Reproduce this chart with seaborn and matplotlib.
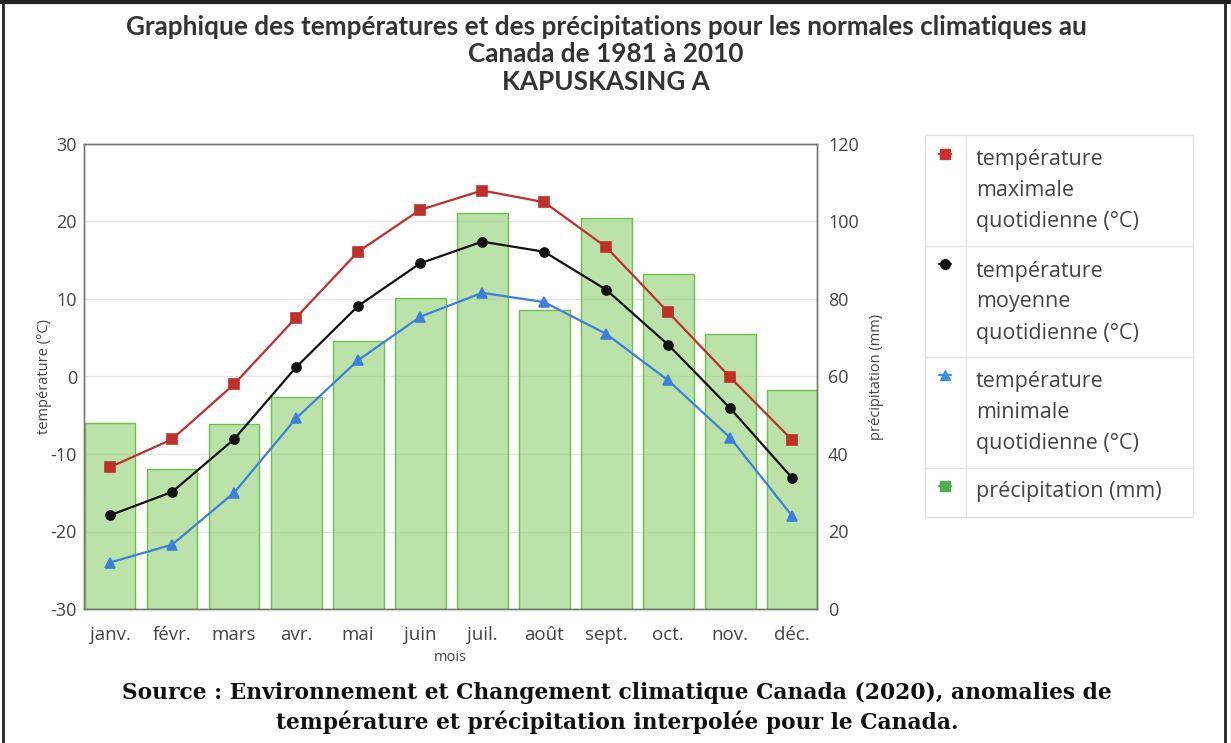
import numpy as np
import pandas as pd
import matplotlib
matplotlib.use("Agg")
import matplotlib.pyplot as plt
from matplotlib.lines import Line2D
from matplotlib.patches import Rectangle
import seaborn as sns

# monthly normals, Kapuskasing A (1981-2010)
months = ['janv.', 'févr.', 'mars', 'avr.', 'mai', 'juin',
          'juil.', 'août', 'sept.', 'oct.', 'nov.', 'déc.']
temp_max = [-11.7, -8.1, -1.0, 7.6, 16.1, 21.5, 24.0, 22.5, 16.7, 8.3, -0.1, -8.2]
temp_mean = [-17.9, -14.9, -8.1, 1.2, 9.1, 14.6, 17.4, 16.1, 11.2, 4.1, -4.1, -13.1]
temp_min = [-24.0, -21.7, -15.0, -5.4, 2.1, 7.7, 10.8, 9.6, 5.5, -0.5, -7.9, -18.0]
precip = [48.0, 36.1, 47.7, 54.7, 69.2, 80.3, 102.2, 77.2, 100.9, 86.5, 71.0, 56.5]
temp_ticks = [-30, -20, -10, 0, 10, 20, 30]
precip_ticks = [0, 20, 40, 60, 80, 100, 120]

legend_rows = [
    ['température', 'maximale', 'quotidienne (°C)'],
    ['température', 'moyenne', 'quotidienne (°C)'],
    ['température', 'minimale', 'quotidienne (°C)'],
    ['précipitation (mm)'],
]

df = pd.DataFrame({'mois': months, 'tmax': temp_max, 'tmean': temp_mean,
                   'tmin': temp_min, 'precip': precip})

sns.set_theme(style='white')
plt.rcParams['font.family'] = ['Open Sans', 'DejaVu Sans']
plt.rcParams['axes.unicode_minus'] = False

W, H = 1231, 743
fig = plt.figure(figsize=(W / 100, H / 100), dpi=100)


def fx(x):
    return x / W


def fy(y):
    return 1 - y / H


# axes box in pixels: left 84, right 817, top 144, bottom 609
ax = fig.add_axes([fx(84), fy(609), (817 - 84) / W, (609 - 144) / H])
ax2 = ax.twinx()

# precipitation bars (right axis)
sns.barplot(data=df, x='mois', y='precip', ax=ax2, color='#8fce6f',
            width=0.82, saturation=1, errorbar=None)
for p in ax2.patches:
    p.set_facecolor((0.56, 0.81, 0.44, 0.6))
    p.set_edgecolor('#6cbf4a')
    p.set_linewidth(1)

# temperature lines (left axis)
sns.pointplot(data=df, x='mois', y='tmax', ax=ax, color='#c0302b',
              marker='s', markersize=6.5, linewidth=1.6, errorbar=None)
sns.pointplot(data=df, x='mois', y='tmean', ax=ax, color='#111111',
              marker='o', markersize=6.5, linewidth=1.6, errorbar=None)
sns.pointplot(data=df, x='mois', y='tmin', ax=ax, color='#3f7fdc',
              marker='^', markersize=7.5, linewidth=1.6, errorbar=None)

ax.set_zorder(ax2.get_zorder() + 1)
ax.patch.set_visible(False)

ax.set_xlim(-0.42, 11.4)
ax.set_ylim(-30, 30)
ax2.set_ylim(0, 120)
ax.set_yticks(temp_ticks)
ax2.set_yticks(precip_ticks)

ax2.grid(True, color='#e6e6e6', linewidth=1)
ax.grid(False)
ax2.set_axisbelow(True)

for a in (ax, ax2):
    for s in a.spines.values():
        s.set_color('#777777')
        s.set_linewidth(1)

ax.tick_params(axis='x', length=0, labelsize=13.5, labelcolor='#444444', pad=12)
ax.tick_params(axis='y', length=0, labelsize=13, labelcolor='#444444', pad=5)
ax2.tick_params(axis='y', length=0, labelsize=13, labelcolor='#444444', pad=8)

ax.set_xlabel('mois', fontsize=10.5, color='#444444')
ax.set_ylabel('température (°C)', fontsize=10.5, color='#444444')
ax2.set_ylabel('précipitation (mm)', fontsize=10.5, color='#444444')
ax.xaxis.set_label_coords(0.5, -0.088)
ax.yaxis.set_label_coords(-0.044, 0.5)
ax2.yaxis.set_label_coords(1.071, 0.5)

# title
title_lines = ['Graphique des températures et des précipitations pour les normales climatiques au',
               'Canada de 1981 à 2010', 'KAPUSKASING A']
for txt, y in zip(title_lines, [27, 54, 82]):
    fig.text(fx(606), fy(y), txt, ha='center', va='center', fontsize=18.8,
             fontweight='bold', color='#333333', family=['Lato', 'DejaVu Sans'])

# source
source_lines = ['Source : Environnement et Changement climatique Canada (2020), anomalies de',
                'température et précipitation interpolée pour le Canada.']
for txt, y in zip(source_lines, [693, 722]):
    fig.text(fx(617), fy(y), txt, ha='center', va='center', fontsize=15.7,
             fontweight='bold', color='#111111', family=['DejaVu Serif'])

# legend drawn as a table
fig.add_artist(Rectangle((fx(925), fy(517)), (1193 - 925) / W, (517 - 135) / H,
                         transform=fig.transFigure, facecolor='white',
                         edgecolor='#e2e2e2', linewidth=1))
for y in [246, 357, 468]:
    fig.add_artist(Line2D([fx(925), fx(1193)], [fy(y), fy(y)], transform=fig.transFigure,
                          color='#e6e6e6', linewidth=1))
fig.add_artist(Line2D([fx(966), fx(966)], [fy(135), fy(517)], transform=fig.transFigure,
                      color='#e6e6e6', linewidth=1))

legend_marks = [('s', '#d0302c', 6.5), ('o', '#111111', 7), ('^', '#3d8fe0', 7.5), ('s', '#4caf50', 7.5)]
row_tops = [154, 264, 375, 486]
for (m, c, ms), yt in zip(legend_marks, row_tops):
    fig.add_artist(Line2D([fx(939), fx(951)], [fy(yt), fy(yt)], transform=fig.transFigure,
                          color=c, linewidth=1.5))
    fig.add_artist(Line2D([fx(945)], [fy(yt)], transform=fig.transFigure, linestyle='none',
                          marker=m, markersize=ms, markerfacecolor=c, markeredgecolor=c))

row_first = [160, 271, 382, 492]
for lines, y0 in zip(legend_rows, row_first):
    for i, t in enumerate(lines):
        fig.text(fx(976), fy(y0 + 31 * i), t, ha='left', va='center', fontsize=15.5,
                 color='#444444')

# outer frame
frame_kw = dict(transform=fig.transFigure, color='#222222')
fig.add_artist(Line2D([0, 1], [fy(2), fy(2)], linewidth=3, **frame_kw))
fig.add_artist(Line2D([fx(3), fx(3)], [fy(2), 0], linewidth=2, **frame_kw))
fig.add_artist(Line2D([fx(1225), fx(1225)], [fy(2), 0], linewidth=2, **frame_kw))

fig.savefig('out.png', dpi=100)
